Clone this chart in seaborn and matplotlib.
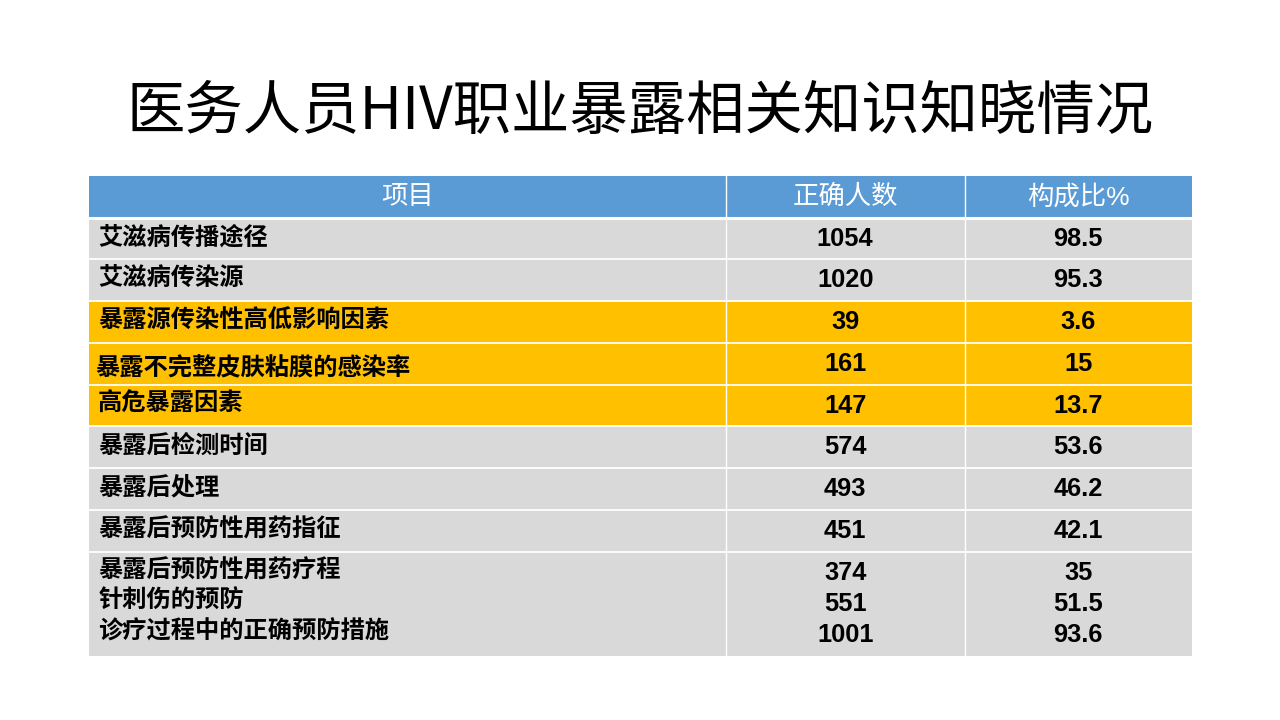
import numpy as np
import seaborn as sns
import matplotlib.pyplot as plt
from matplotlib.colors import ListedColormap

# 表格数据
headers = ["项目", "正确人数", "构成比%"]
items = ["艾滋病传播途径", "艾滋病传染源", "暴露源传染性高低影响因素",
         "暴露不完整皮肤粘膜的感染率", "高危暴露因素", "暴露后检测时间",
         "暴露后处理", "暴露后预防性用药指征"]
counts = ["1054", "1020", "39", "161", "147", "574", "493", "451"]
ratios = ["98.5", "95.3", "3.6", "15", "13.7", "53.6", "46.2", "42.1"]
last_items = ["暴露后预防性用药疗程", "针刺伤的预防", "诊疗过程中的正确预防措施"]
last_counts = ["374", "551", "1001"]
last_ratios = ["35", "51.5", "93.6"]
highlight = [False, False, True, True, True, False, False, False]

sns.set_theme(style="white")
plt.rcParams["font.family"] = ["Liberation Sans", "Noto Sans CJK SC"]
plt.rcParams["text.color"] = "black"

# 网格：每行 2 个单位，最后一行 5 个单位；列宽 56/21/20
col_units = [56, 21, 20]
row_units = [2] + [2] * len(items) + [5]
ncols = sum(col_units)
nrows = sum(row_units)

grid = np.ones((nrows, ncols))
grid[:2, :] = 0
r = 2
for h in highlight:
    if h:
        grid[r:r + 2, :] = 2
    r += 2

fig = plt.figure(figsize=(12.8, 7.2), dpi=100)
ax = fig.add_axes([89 / 1280, 1 - 656 / 720, 1103 / 1280, 480 / 720])
cmap = ListedColormap(["#5B9BD5", "#D9D9D9", "#FFC000"])
sns.heatmap(grid, cmap=cmap, vmin=-0.5, vmax=2.5, cbar=False, ax=ax,
            xticklabels=False, yticklabels=False)

# 白色分隔线
bounds = np.cumsum(row_units)[:-1]
for i, b in enumerate(bounds):
    ax.axhline(b, color="white", lw=2.2 if i == 0 else 1.3)
xb = np.cumsum(col_units)[:-1]
for b in xb:
    ax.axvline(b, color="white", lw=1.0)

x_label = 0.8
x_cnt = xb[0] + col_units[1] / 2
x_rat = xb[1] + col_units[2] / 2

# 表头
for x, t in zip([col_units[0] / 2, x_cnt, x_rat], headers):
    ax.text(x, 1.0, t, color="white", fontsize=19, fontweight="medium",
            ha="center", va="center")

for i, (name, c, p) in enumerate(zip(items, counts, ratios)):
    yc = 2 + 2 * i + 1
    dy, dx = (0.25, -0.25) if i == 3 else (-0.05, 0)
    ax.text(x_label + dx, yc + dy, name, fontsize=17.5, fontweight="bold",
            ha="left", va="center")
    ax.text(x_cnt, yc, c, fontsize=18.3, fontweight="bold", ha="center", va="center")
    ax.text(x_rat, yc, p, fontsize=18.3, fontweight="bold", ha="center", va="center")

y0 = 2 + 2 * len(items)
for j, (name, c, p) in enumerate(zip(last_items, last_counts, last_ratios)):
    ax.text(x_label, y0 + 0.93 + 1.46 * j, name, fontsize=17.5, fontweight="bold",
            ha="left", va="center")
    ax.text(x_cnt, y0 + 1.02 + 1.49 * j, c, fontsize=18.3, fontweight="bold",
            ha="center", va="center")
    ax.text(x_rat, y0 + 1.02 + 1.49 * j, p, fontsize=18.3, fontweight="bold",
            ha="center", va="center")

fig.text(0.5, 1 - 113 / 720, "医务人员HIV职业暴露相关知识知晓情况",
         family=["Noto Sans CJK SC"], fontsize=42, color="black",
         ha="center", va="center")

fig.savefig("out.png", dpi=100, facecolor="white")
